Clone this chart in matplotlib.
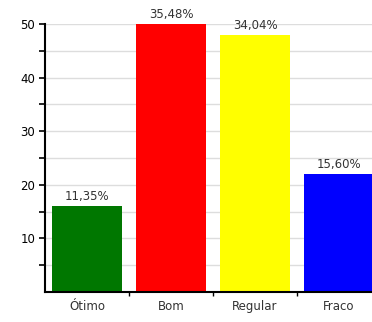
import matplotlib.pyplot as plt
import numpy as np

categorias = ['Ótimo', 'Bom', 'Regular', 'Fraco']
valores = [16, 50, 48, 22]
rotulos = ['11,35%', '35,48%', '34,04%', '15,60%']
cores = ['#007700', '#ff0000', '#ffff00', '#0000ff']

fig = plt.figure(figsize=(3.72, 3.22), dpi=100)
ax = fig.add_axes([45/372, 30/322, 327/372, 268/322])

x = np.arange(len(categorias))
ax.bar(x, valores, width=0.83, color=cores, zorder=2)

for xi, v, r in zip(x, valores, rotulos):
    ax.text(xi, v + 0.6, r, ha='center', va='bottom', fontsize=8.5,
            color='#333333', clip_on=False)

ax.set_xlim(-0.5, -0.5 + 327/84)
ax.set_ylim(0, 50)

ax.set_yticks([10, 20, 30, 40, 50])
ax.set_yticks(np.arange(5, 50, 10), minor=True)
ax.set_xticks(x)
ax.set_xticklabels(categorias)
ax.set_xticks([0.5, 1.5, 2.5], minor=True)
ax.tick_params(axis='x', which='major', length=0, labelsize=8.5, pad=6, labelcolor='#333333')
ax.tick_params(axis='x', which='minor', length=3, width=1)
ax.tick_params(axis='y', which='both', length=4, width=1.2, labelsize=8.5, pad=3)

for yv in np.arange(5, 51, 5):
    ax.axhline(yv, color='#dddddd', lw=1, zorder=1)

for s in ['top', 'right']:
    ax.spines[s].set_visible(False)
ax.spines['left'].set_linewidth(1.5)
ax.spines['bottom'].set_linewidth(1.5)

fig.savefig('out.png', dpi=100)
